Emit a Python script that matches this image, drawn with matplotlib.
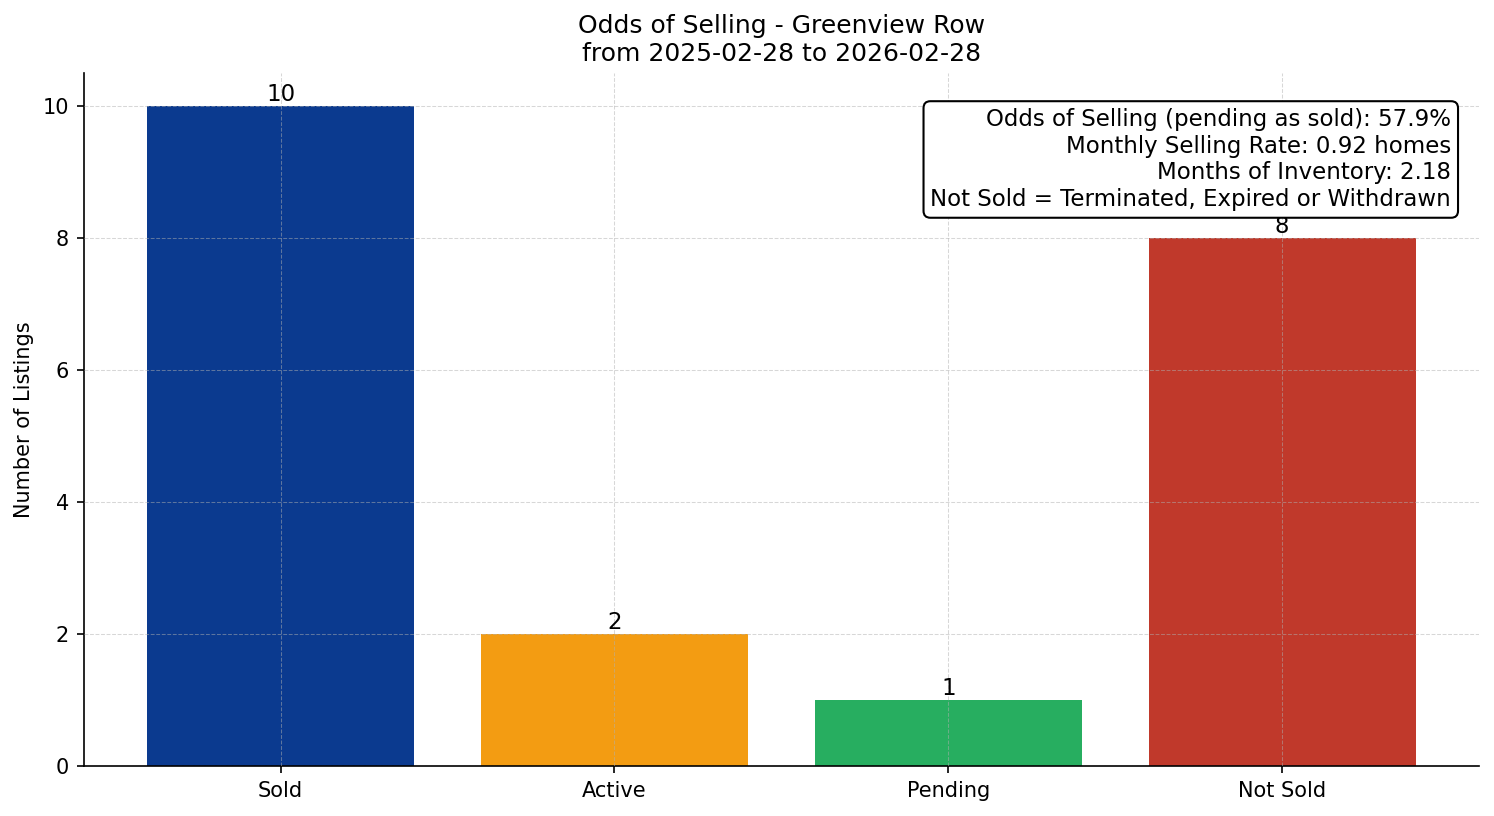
import matplotlib
matplotlib.use("Agg")
import matplotlib.pyplot as plt

# chart data
categories = ["Sold", "Active", "Pending", "Not Sold"]
counts = [10, 2, 1, 8]
bar_colors = ["#0b3a8f", "#f39c12", "#27ae60", "#c0392b"]

odds_pct = 57.9
monthly_rate = 0.92
months_inventory = 2.18

fig, ax = plt.subplots(figsize=(9.96, 5.44), dpi=150)

bars = ax.bar(categories, counts, color=bar_colors, width=0.8)
for rect, val in zip(bars, counts):
    ax.text(rect.get_x() + rect.get_width() / 2, rect.get_height(), str(val),
            ha="center", va="bottom", fontsize=11)

ax.set_title("Odds of Selling - Greenview Row\nfrom 2025-02-28 to 2026-02-28", fontsize=12)
ax.set_ylabel("Number of Listings", fontsize=10)
ax.tick_params(axis="both", labelsize=10)
ax.grid(True, linestyle="--", linewidth=0.5, alpha=0.5)
ax.set_axisbelow(False)
ax.spines["top"].set_visible(False)
ax.spines["right"].set_visible(False)

info = (f"Odds of Selling (pending as sold): {odds_pct}%\n"
        f"Monthly Selling Rate: {monthly_rate} homes\n"
        f"Months of Inventory: {months_inventory}\n"
        "Not Sold = Terminated, Expired or Withdrawn")
ax.text(0.98, 0.95, info, transform=ax.transAxes, ha="right", va="top",
        fontsize=11, zorder=5,
        bbox=dict(boxstyle="round,pad=0.3", facecolor="white", edgecolor="black"))

fig.subplots_adjust(left=0.056, right=0.99, bottom=0.061, top=0.91)
fig.savefig("out.png", dpi=150)
